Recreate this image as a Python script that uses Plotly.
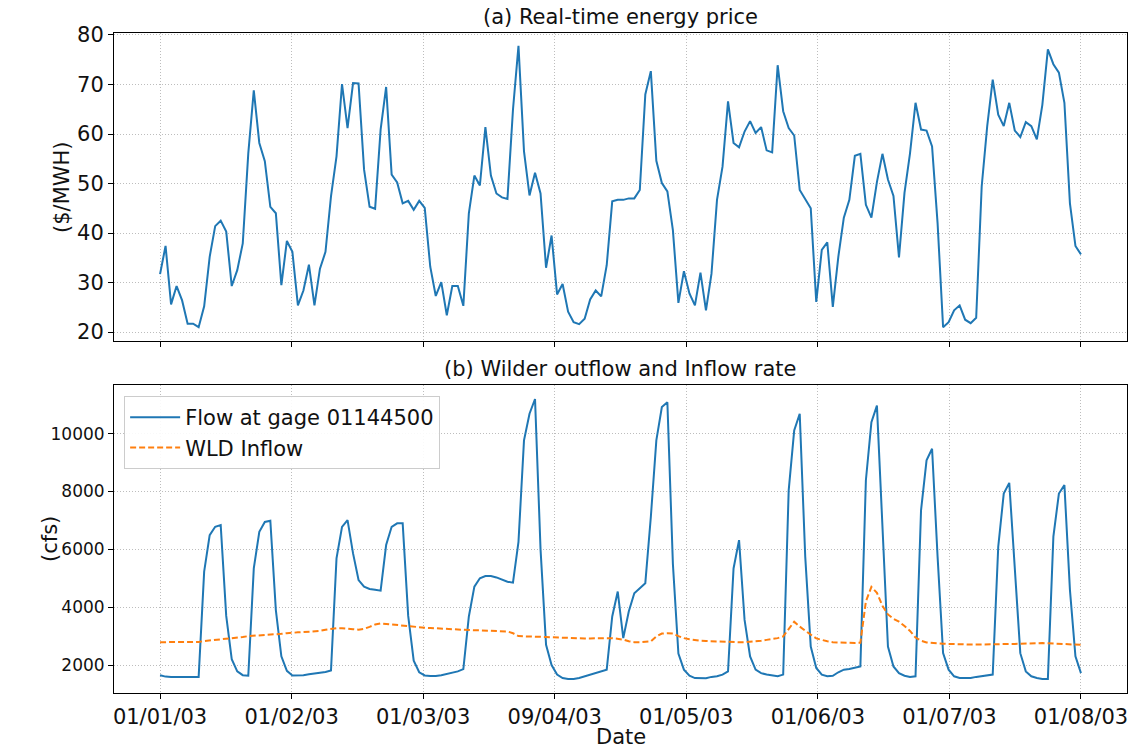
import plotly.graph_objects as go
from plotly.subplots import make_subplots

# ---------------- data (hourly index) ----------------
hours = list(range(168))

tick_labels = ['01/01/03', '01/02/03', '01/03/03', '09/04/03',
               '01/05/03', '01/06/03', '01/07/03', '01/08/03']

price = [
    31.7, 37.4, 25.6, 29.3, 26.4, 21.7, 21.7, 21.0, 25.2, 35.2, 41.4, 42.5,
    40.3, 29.3, 32.5, 37.9, 56.1, 68.8, 58.2, 54.5, 45.3, 44.0, 29.5, 38.4,
    36.2, 25.4, 28.4, 33.6, 25.4, 32.8, 36.2, 47.4, 55.5, 70.1, 61.2, 70.3,
    70.2, 52.8, 45.3, 44.9, 60.9, 69.5, 51.8, 50.2, 46.0, 46.5, 44.7, 46.5,
    45.1, 33.2, 27.3, 30.1, 23.4, 29.3, 29.3, 25.3, 44.0, 51.6, 49.6, 61.4,
    51.6, 48.0, 47.2, 46.9, 64.9, 77.8, 56.5, 47.6, 52.2, 48.0, 33.0, 39.5,
    27.6, 29.7, 24.1, 22.0, 21.6, 22.7, 26.6, 28.4, 27.2, 33.5, 46.4, 46.7,
    46.7, 47.0, 47.0, 48.7, 68.0, 72.7, 54.6, 50.1, 48.4, 40.6, 25.9, 32.3,
    27.8, 25.4, 32.0, 24.4, 31.8, 46.7, 53.4, 66.6, 58.2, 57.3, 60.5, 62.6,
    60.2, 61.4, 56.7, 56.3, 73.9, 64.6, 61.2, 59.7, 48.7, 46.8, 45.0, 26.1,
    36.6, 38.1, 25.1, 35.2, 43.1, 46.7, 55.6, 56.0, 45.7, 43.1, 50.3, 56.0,
    50.8, 47.5, 35.1, 48.1, 56.1, 66.3, 60.9, 60.7, 57.5, 42.0, 21.0, 22.0,
    24.4, 25.4, 22.5, 21.8, 22.9, 49.4, 61.6, 71.0, 63.9, 61.6, 66.3, 60.7,
    59.4, 62.4, 61.6, 58.9, 65.9, 77.1, 74.1, 72.4, 66.3, 46.0, 37.4, 35.7,
]

flow = [
    1650, 1600, 1590, 1590, 1590, 1590, 1590, 1590,
    5230, 6490, 6780, 6840, 3700, 2200, 1780, 1650,
    1630, 5340, 6610, 6950, 6990, 3900, 2300, 1800,
    1640, 1640, 1650, 1680, 1700, 1730, 1760, 1810,
    5690, 6780, 7010, 5860, 4940, 4710, 4630, 4600,
    4570, 6150, 6780, 6900, 6900, 3700, 2150, 1750,
    1640, 1620, 1620, 1650, 1700, 1730, 1780, 1860,
    3680, 4710, 5000, 5080, 5080, 5030, 4960, 4880,
    4850, 6260, 9770, 10690, 11200, 6000, 2700, 2000,
    1670, 1550, 1520, 1520, 1550, 1610, 1670, 1720,
    1780, 1840, 3680, 4540, 2930, 3850, 4480, 4650,
    4830, 7120, 9770, 10920, 11090, 5500, 2400, 1840,
    1630, 1550, 1540, 1540, 1590, 1610, 1670, 1780,
    5340, 6320, 3560, 2300, 1840, 1720, 1670, 1640,
    1610, 1670, 8040, 10110, 10690, 5750, 2640, 1900,
    1670, 1610, 1630, 1750, 1840, 1860, 1900, 1950,
    8390, 10400, 10970, 6900, 2640, 1950, 1720, 1630,
    1590, 1610, 7350, 9080, 9480, 5750, 2410, 1840,
    1610, 1550, 1540, 1550, 1590, 1610, 1630, 1670,
    6090, 7930, 8300, 5520, 2410, 1780, 1610, 1550,
    1520, 1520, 6440, 7930, 8220, 4600, 2300, 1720,
]

inflow = [
    2790, 2790, 2800, 2800, 2790, 2790, 2800, 2800,
    2830, 2850, 2860, 2880, 2900, 2910, 2940, 2970,
    3000, 3010, 3020, 3030, 3045, 3060, 3080, 3100,
    3125, 3130, 3140, 3150, 3160, 3180, 3220, 3260,
    3275, 3275, 3270, 3240, 3220, 3250, 3320, 3400,
    3440, 3420, 3390, 3370, 3360, 3340, 3320, 3300,
    3290, 3280, 3270, 3250, 3230, 3220, 3220, 3210,
    3210, 3200, 3200, 3190, 3180, 3180, 3170, 3160,
    3100, 3000, 2990, 2990, 2980, 2970, 2970, 2960,
    2950, 2940, 2930, 2930, 2920, 2920, 2920, 2930,
    2930, 2930, 2930, 2910, 2880, 2820, 2790, 2790,
    2800, 2820, 2990, 3090, 3100, 3090, 3000, 2930,
    2890, 2860, 2840, 2830, 2820, 2810, 2800, 2790,
    2790, 2790, 2790, 2800, 2810, 2840, 2870, 2900,
    2930, 2990, 3250, 3500, 3330, 3180, 3050, 2920,
    2860, 2820, 2790, 2780, 2770, 2760, 2760, 2770,
    4200, 4700, 4500, 4050, 3750, 3600, 3500, 3350,
    3180, 2950, 2840, 2780, 2760, 2750, 2740, 2730,
    2720, 2720, 2720, 2710, 2710, 2710, 2710, 2710,
    2710, 2710, 2720, 2730, 2740, 2750, 2760, 2760,
    2760, 2750, 2740, 2730, 2720, 2710, 2700, 2700,
]

price_ticks = [20, 30, 40, 50, 60, 70, 80]
flow_ticks = [2000, 4000, 6000, 8000, 10000]

# ---------------- figure ----------------
FONT = "DejaVu Sans"
TXT = "#111111"
n_last = hours[-1]
tick_vals = [i * n_last / (len(tick_labels) - 1) for i in range(len(tick_labels))]
pad = 0.05 * n_last

fig = make_subplots(rows=2, cols=1, shared_xaxes=True, vertical_spacing=44 / 660)

fig.add_trace(go.Scatter(x=hours, y=price, mode="lines",
                         line=dict(color="#1f77b4", width=2),
                         showlegend=False), row=1, col=1)
fig.add_trace(go.Scatter(x=hours, y=flow, mode="lines", name="Flow at gage 01144500",
                         line=dict(color="#1f77b4", width=2)), row=2, col=1)
fig.add_trace(go.Scatter(x=hours, y=inflow, mode="lines", name="WLD Inflow",
                         line=dict(color="#ff7f0e", width=2, dash="6px,3px")), row=2, col=1)

axis_common = dict(
    showline=True, linecolor="black", linewidth=1, mirror=True,
    ticks="outside", ticklen=5, tickcolor="black", tickwidth=1,
    showgrid=True, gridcolor="#bdbdbd", griddash="1px,2px", gridwidth=1,
    zeroline=False, automargin=False,
    tickfont=dict(family=FONT, size=21, color=TXT),
)

fig.update_xaxes(**axis_common, range=[-pad, n_last + pad],
                 tickmode="array", tickvals=tick_vals, ticktext=tick_labels)
fig.update_xaxes(showticklabels=False, row=1, col=1)
fig.update_yaxes(**axis_common)
fig.update_yaxes(range=[18.2, 80.4], tickmode="array",
                 tickvals=price_ticks, ticktext=[str(v) for v in price_ticks],
                 row=1, col=1)
fig.update_yaxes(range=[1033, 11684], tickmode="array",
                 tickvals=flow_ticks, ticktext=[str(v) for v in flow_ticks],
                 tickfont=dict(family=FONT, size=17, color=TXT),
                 row=2, col=1)

annotations = [
    dict(text="(a) Real-time energy price", xref="paper", yref="paper",
         x=0.5, xanchor="center", y=1.0, yanchor="bottom", yshift=2, showarrow=False,
         font=dict(family=FONT, size=21, color=TXT)),
    dict(text="(b) Wilder outflow and Inflow rate", xref="paper", yref="paper",
         x=0.5, xanchor="center", y=308 / 660, yanchor="bottom", yshift=2, showarrow=False,
         font=dict(family=FONT, size=21, color=TXT)),
    dict(text="($/MWH)", xref="paper", yref="paper", x=0, xanchor="center", xshift=-52,
         y=1 - 154 / 660, yanchor="middle", textangle=-90, showarrow=False,
         font=dict(family=FONT, size=21, color=TXT)),
    dict(text="(cfs)", xref="paper", yref="paper", x=0, xanchor="center", xshift=-64,
         y=154 / 660, yanchor="middle", textangle=-90, showarrow=False,
         font=dict(family=FONT, size=21, color=TXT)),
    dict(text="Date", xref="paper", yref="paper", x=0.5, xanchor="center",
         y=0, yanchor="middle", yshift=-44,
         showarrow=False, font=dict(family=FONT, size=21, color=TXT)),
]

fig.update_layout(
    width=1138, height=748,
    margin=dict(l=114, r=11, t=33, b=55, autoexpand=False),
    paper_bgcolor="white", plot_bgcolor="white",
    font=dict(family=FONT, size=20, color=TXT),
    annotations=annotations,
    legend=dict(x=0.01, y=0.45, xanchor="left", yanchor="top",
                bgcolor="rgba(255,255,255,0.9)", bordercolor="#cccccc", borderwidth=1,
                itemwidth=50, tracegroupgap=0,
                font=dict(family=FONT, size=21, color=TXT)),
)

fig.write_html("out.html", config={"displayModeBar": False},
               post_script="document.body.style.margin='0px';")
